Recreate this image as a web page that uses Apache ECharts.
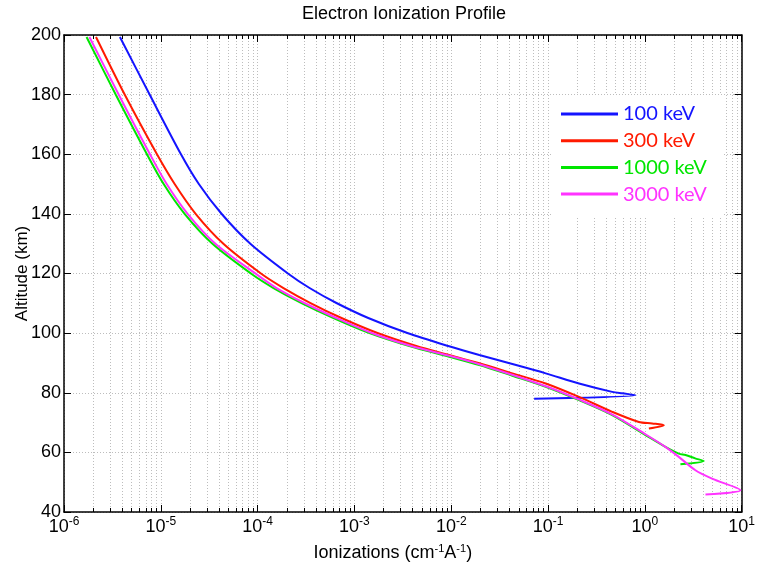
<!DOCTYPE html>
<html>
<head>
<meta charset="utf-8">
<script src="https://cdn.jsdelivr.net/npm/echarts@6/dist/echarts.min.js"></script>
<style>
  html, body { margin: 0; padding: 0; background: #fff; }
  #chart { width: 758px; height: 567px; }
</style>
</head>
<body>
<div id="chart"></div>
<script>
// Beam energies and their line colours
const energies = ['100 keV', '300 keV', '1000 keV', '3000 keV'];
const colors = ['#1414ff', '#ff1a00', '#00e600', '#ff33ff'];

// Altitude (km) and ionization rate (cm^-1 A^-1) for each beam energy
const alt100 = [199.33, 179.87, 160.08, 150.02, 139.95, 129.89, 119.83, 115.13, 110.10, 105.07, 100.03, 95.67, 92.65, 89.63, 86.5, 83.1, 80.3, 79.8, 79.2, 78.0];
const ion100 = [3.78e-6, 7.71e-6, 1.61e-5, 2.47e-5, 4.26e-5, 8.47e-5, 2.09e-4, 3.44e-4, 6.52e-4, 1.39e-3, 3.52e-3, 9.31e-3, 1.95e-2, 4.28e-2, 9.46e-2, 0.209, 0.460, 0.583, 0.802, 0.0718];

const alt300 = [199.33, 179.87, 160.08, 150.02, 139.95, 129.89, 119.83, 115.13, 110.10, 105.07, 100.03, 95.67, 92.65, 89.87, 86.51, 83.1, 78.6, 73.6, 70.2, 69.7, 69.1, 68.0];
const ion300 = [2.14e-6, 4.26e-6, 9.10e-6, 1.39e-5, 2.30e-5, 4.46e-5, 1.10e-4, 1.85e-4, 3.52e-4, 7.35e-4, 1.73e-3, 4.36e-3, 9.53e-3, 1.95e-2, 4.28e-2, 9.46e-2, 0.209, 0.460, 0.867, 1.19, 1.57, 1.10];

const alt1000 = [199.33, 179.87, 160.08, 150.02, 139.95, 129.89, 119.83, 115.13, 110.10, 105.07, 100.03, 95.67, 92.08, 89.30, 85.71, 82.0, 77.5, 72.5, 65.8, 61.85, 59.6, 59.1, 58.0, 57.1, 56.0];
const ion1000 = [1.71e-6, 3.44e-6, 7.17e-6, 1.07e-5, 1.77e-5, 3.44e-5, 8.67e-5, 1.46e-4, 2.84e-4, 6.08e-4, 1.43e-3, 3.69e-3, 9.53e-3, 1.95e-2, 4.28e-2, 9.46e-2, 0.209, 0.460, 1.016, 1.63, 2.24, 2.63, 3.31, 4.06, 2.33];

const alt3000 = [199.33, 179.87, 160.08, 150.02, 139.95, 129.89, 119.83, 115.13, 110.10, 105.07, 100.03, 95.67, 92.22, 89.47, 82.1, 77.6, 72.6, 66.0, 61.85, 58.5, 54.0, 51.2, 47.3, 45.9];
const ion3000 = [1.83e-6, 3.69e-6, 7.70e-6, 1.15e-5, 1.90e-5, 3.69e-5, 9.65e-5, 1.57e-4, 3.05e-4, 6.52e-4, 1.51e-3, 3.87e-3, 1.0e-2, 1.99e-2, 9.64e-2, 0.214, 0.468, 1.023, 1.63, 2.24, 3.33, 4.94, 9.70, 4.23];

const altitudes = [alt100, alt300, alt1000, alt3000];
const ionizations = [ion100, ion300, ion1000, ion3000];

// Axis ranges
const xMin = 1e-6, xMax = 10;
const yMin = 40, yMax = 200, yStep = 20;

const tickFont = "'Liberation Sans Narrow', 'Liberation Sans', Arial, sans-serif";
const textFont = "'Liberation Sans', Arial, sans-serif";
const gridStyle = { color: '#bdbdbd', width: 1, type: [1, 2] };

function decadeLabel(v) {
  const e = Math.round(Math.log10(v));
  return '{b|10}{s|' + e + '}';
}

const xCommon = {
  type: 'log',
  logBase: 10,
  min: xMin,
  max: xMax,
  axisLine: { show: true, lineStyle: { color: '#000', width: 1.5 } },
  axisTick: { show: true, inside: true, length: 7, lineStyle: { color: '#000', width: 1 } },
  minorTick: { show: true, splitNumber: 9, length: 4, lineStyle: { color: '#000', width: 1 } }
};

const yCommon = {
  type: 'value',
  min: yMin,
  max: yMax,
  interval: yStep,
  axisLine: { show: true, lineStyle: { color: '#000', width: 1.5 } },
  axisTick: { show: true, inside: true, length: 7, lineStyle: { color: '#000', width: 1 } }
};

const chart = echarts.init(document.getElementById('chart'), null, { renderer: 'canvas' });

chart.setOption({
  animation: false,
  backgroundColor: '#fff',
  color: colors,
  title: {
    text: 'Electron Ionization Profile',
    left: 302,
    top: 5,
    padding: 0,
    textStyle: { fontSize: 18, fontWeight: 'normal', color: '#000', fontFamily: textFont }
  },
  grid: { left: 64, right: 15, top: 35, bottom: 55, containLabel: false },
  legend: {
    orient: 'vertical',
    left: 553,
    top: 95,
    backgroundColor: '#fff',
    padding: [9, 16, 12, 8],
    itemGap: 6.7,
    itemWidth: 57,
    itemHeight: 3,
    icon: 'rect',
    textStyle: { fontSize: 20, lineHeight: 20, fontFamily: 'Lato, sans-serif' },
    data: energies.map((n, i) => ({ name: n, textStyle: { color: colors[i] } }))
  },
  xAxis: [
    Object.assign({}, xCommon, {
      position: 'bottom',
      name: 'Ionizations (cm{sup|-1}A{sup|-1})',
      nameLocation: 'middle',
      nameGap: 31,
      nameTextStyle: {
        fontSize: 18, color: '#000', fontFamily: textFont, padding: [0, 20, 0, 0],
        rich: { sup: { fontSize: 11, padding: [0, 0, 9, 0], fontFamily: textFont, color: '#000' } }
      },
      axisLabel: {
        show: true,
        margin: 4,
        color: '#000',
        formatter: decadeLabel,
        rich: {
          b: { fontSize: 18, fontFamily: tickFont, color: '#000' },
          s: { fontSize: 12, fontFamily: tickFont, color: '#000', padding: [0, 0, 11, 0] }
        }
      },
      splitLine: { show: true, lineStyle: gridStyle },
      minorSplitLine: { show: true, lineStyle: gridStyle }
    }),
    Object.assign({}, xCommon, {
      position: 'top',
      axisLabel: { show: false },
      splitLine: { show: false },
      minorSplitLine: { show: false }
    })
  ],
  yAxis: [
    Object.assign({}, yCommon, {
      position: 'left',
      name: 'Altitude (km)',
      nameLocation: 'middle',
      nameGap: 33,
      nameMoveOverlap: false,
      nameTextStyle: { fontSize: 17, color: '#000', fontFamily: textFont },
      axisLabel: { show: true, margin: 3, color: '#000', fontSize: 18, fontFamily: tickFont },
      splitLine: { show: true, lineStyle: gridStyle }
    }),
    Object.assign({}, yCommon, {
      position: 'right',
      axisLabel: { show: false },
      splitLine: { show: false }
    })
  ],
  series: energies.map((name, i) => ({
    name: name,
    type: 'line',
    xAxisIndex: 0,
    yAxisIndex: 0,
    showSymbol: false,
    symbol: 'none',
    smooth: 0.3,
    lineStyle: { width: 2, color: colors[i] },
    data: ionizations[i].map((x, k) => [x, altitudes[i][k]]),
    z: 3 + i
  }))
});
</script>
</body>
</html>
